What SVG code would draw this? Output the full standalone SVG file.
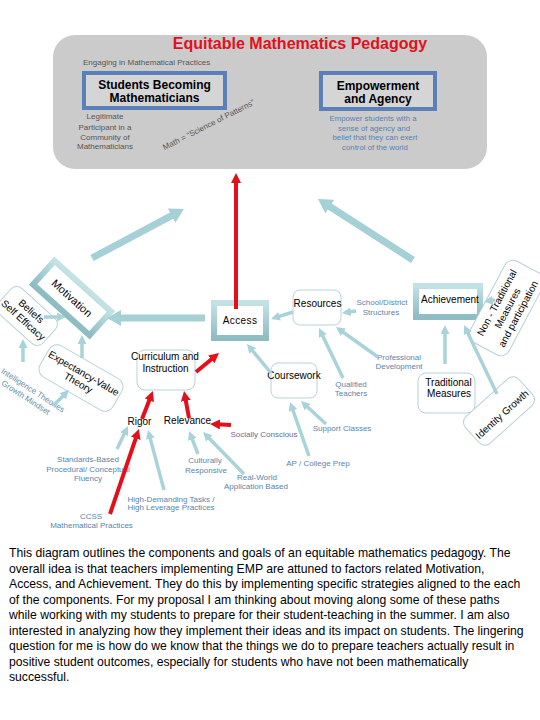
<svg xmlns="http://www.w3.org/2000/svg" width="540" height="720" viewBox="0 0 540 720">
<defs>
<style>
text{font-family:"Liberation Sans",Arial,Helvetica,sans-serif}
.lbl{font-size:8px;fill:#5b84ab;text-anchor:middle}
.gry{font-size:8px;fill:#555;text-anchor:middle}
.nd{font-size:10px;fill:#000;text-anchor:middle}
.rb{fill:#fff;stroke:#b7d1d9;stroke-width:1}
.tb{fill:#fff;stroke:url(#tg);stroke-width:6}
.bb{fill:#d5d5d5;stroke:#5b80b8;stroke-width:4}
.hd{font-size:12px;font-weight:bold;fill:#000;text-anchor:middle}
.ta{fill:none;stroke:#a9d3d8;stroke-width:3.5;marker-end:url(#mt)}
.tA{fill:none;stroke:#a5d0d6;stroke-width:7;marker-end:url(#mT)}
.ra{fill:none;stroke:#e3101b;stroke-width:4;marker-end:url(#mr)}
.para{font-size:12.2px;fill:#000}
</style>
<linearGradient id="tg" x1="0" y1="0" x2="0" y2="1"><stop offset="0" stop-color="#c3e2e5"/><stop offset="1" stop-color="#8dbcc2"/></linearGradient>
<marker id="mt" viewBox="0 0 10 10" refX="3" refY="5" markerWidth="9" markerHeight="9" markerUnits="userSpaceOnUse" orient="auto"><path d="M0,0L10,5L0,10z" fill="#a9d3d8"/></marker>
<marker id="mT" viewBox="0 0 10 10" refX="3" refY="5" markerWidth="14" markerHeight="16" markerUnits="userSpaceOnUse" orient="auto" preserveAspectRatio="none"><path d="M0,0L10,5L0,10z" fill="#a5d0d6"/></marker>
<marker id="mT2" viewBox="0 0 10 10" refX="3" refY="5" markerWidth="14" markerHeight="19" markerUnits="userSpaceOnUse" orient="auto" preserveAspectRatio="none"><path d="M0,0L10,5L0,10z" fill="#a5d0d6"/></marker>
<marker id="mr" viewBox="0 0 10 10" refX="3" refY="5" markerWidth="10" markerHeight="10" markerUnits="userSpaceOnUse" orient="auto"><path d="M0,0L10,5L0,10z" fill="#e3101b"/></marker>
</defs>
<rect width="540" height="720" fill="#fff"/>

<g id="emp-frame">
<rect x="53" y="35" width="434" height="134" rx="22" fill="#cbcbcb"/>
<text x="300" y="49" font-size="16" font-weight="bold" fill="#e3101b" text-anchor="middle">Equitable Mathematics Pedagogy</text>
<text x="83" y="64.5" font-size="8" fill="#555">Engaging in Mathematical Practices</text>
</g>
<g id="students">
<rect class="bb" x="84" y="73" width="141" height="35"/>
<text class="hd" x="154.5" y="89">Students Becoming</text>
<text class="hd" x="154.5" y="102">Mathematicians</text>
</g>
<g id="empowerment">
<rect class="bb" x="321" y="73" width="114" height="36"/>
<text class="hd" x="378" y="90">Empowerment</text>
<text class="hd" x="378" y="103">and Agency</text>
</g>
<g id="legitimate">
<text class="gry" x="105" y="119">Legitimate</text>
<text class="gry" x="105" y="129.5">Participant in a</text>
<text class="gry" x="105" y="139.5">Community of</text>
<text class="gry" x="105" y="149">Mathematicians</text>
</g>
<g id="math-patterns">
<text class="gry" transform="translate(208.5,124.5) rotate(-27)" y="3">Math = “Science of Patterns”</text>
</g>
<g id="empower-desc" font-size="7.8" fill="#5b7fb5" text-anchor="middle">
<text x="373" y="121">Empower students with a</text>
<text x="374" y="130.5">sense of agency and</text>
<text x="375" y="140">belief that they can exert</text>
<text x="375" y="149.5">control of the world</text>
</g>

<g id="motivation" transform="translate(72,298) rotate(42)">
<rect class="tb" x="-38" y="-16" width="76" height="32"/>
<text x="0" y="4" font-size="11" text-anchor="middle">Motivation</text>
</g>
<g id="beliefs" transform="translate(27,316) rotate(42)">
<rect class="rb" x="-30" y="-17" width="60" height="34" rx="8"/>
<text class="nd" y="-3">Beliefs</text>
<text class="nd" y="9">Self Efficacy</text>
</g>
<g id="expectancy" transform="translate(81,378) rotate(30)">
<rect class="rb" x="-42" y="-18" width="84" height="36" rx="9"/>
<text class="nd" y="-2" font-size="9.5">Expectancy-Value</text>
<text class="nd" y="9" font-size="9.5">Theory</text>
</g>
<g id="intelligence" transform="translate(33,390) rotate(33)" font-size="8" fill="#5f8eaa" text-anchor="middle">
<text x="0" y="3">Intelligence Theories</text>
<text x="-2" y="13">Growth Mindset</text>
</g>

<g id="access">
<rect class="tb" x="214" y="303" width="52" height="35"/>
<text class="nd" x="240" y="324" letter-spacing="0.4">Access</text>
</g>
<g id="resources">
<rect class="rb" x="293" y="290" width="48" height="35" rx="7"/>
<text class="nd" x="317.5" y="307">Resources</text>
</g>
<g id="school-district">
<text class="lbl" x="382" y="305">School/District</text>
<text class="lbl" x="381" y="315">Structures</text>
</g>
<g id="curriculum">
<rect class="rb" x="137" y="350" width="58" height="40" rx="8"/>
<text class="nd" x="165" y="360">Curriculum and</text>
<text class="nd" x="165.5" y="371.5">Instruction</text>
</g>
<g id="coursework">
<rect class="rb" x="271" y="363" width="46" height="35" rx="7"/>
<text class="nd" x="294" y="379">Coursework</text>
</g>
<g id="professional">
<text class="lbl" x="399" y="360">Professional</text>
<text class="lbl" x="399" y="369">Development</text>
</g>
<g id="qualified">
<text class="lbl" x="351" y="387">Qualified</text>
<text class="lbl" x="351" y="396">Teachers</text>
</g>
<g id="support"><text class="lbl" x="342" y="431">Support Classes</text></g>
<g id="ap"><text class="lbl" x="318" y="466">AP / College Prep</text></g>

<g id="achievement">
<rect class="tb" x="416" y="286" width="64" height="31"/>
<text class="nd" x="450" y="303" font-size="10.5">Achievement</text>
</g>
<g id="nontraditional" transform="translate(507,308) rotate(-62)">
<rect class="rb" x="-46" y="-22" width="92" height="44" rx="9"/>
<text class="nd" y="-8">Non - Traditional</text>
<text class="nd" y="4">Measures</text>
<text class="nd" y="16" font-size="9.5">and participation</text>
</g>
<g id="traditional">
<rect class="rb" x="418" y="373" width="57" height="40" rx="8"/>
<text class="nd" x="448.5" y="386">Traditional</text>
<text class="nd" x="449" y="397">Measures</text>
</g>
<g id="identity" transform="translate(499,411) rotate(-42)">
<rect class="rb" x="-36" y="-18" width="72" height="36" rx="8"/>
<text class="nd" y="8">Identity Growth</text>
</g>

<g id="rigor"><text class="nd" x="139.5" y="425">Rigor</text></g>
<g id="relevance"><text class="nd" x="187.5" y="424">Relevance</text></g>
<g id="socially"><text x="264" y="437" font-size="8" fill="#6a6a9c" text-anchor="middle">Socially Conscious</text></g>
<g id="standards">
<text class="lbl" x="88" y="462" fill="#6a91ad">Standards-Based</text>
<text class="lbl" x="88" y="472">Procedural/ Conceptual</text>
<text class="lbl" x="88" y="481">Fluency</text>
</g>
<g id="culturally">
<text class="lbl" x="205" y="463">Culturally</text>
<text class="lbl" x="206" y="473">Responsive</text>
</g>
<g id="realworld">
<text class="lbl" x="257" y="480">Real-World</text>
<text class="lbl" x="256" y="489">Application Based</text>
</g>
<g id="highdemand">
<text class="lbl" x="171" y="501.5">High-Demanding Tasks /</text>
<text class="lbl" x="171" y="510">High Leverage Practices</text>
</g>
<g id="ccss">
<text class="lbl" x="91" y="519">CCSS</text>
<text class="lbl" x="91.5" y="528">Mathematical Practices</text>
</g>

<g id="connectors">
<line class="ta" x1="44" y1="317" x2="59.7" y2="317"/>
<line class="ta" x1="82" y1="358" x2="82" y2="341.3"/>
<line class="ta" x1="23" y1="362" x2="23" y2="345.3"/>
<line class="ta" x1="53" y1="406" x2="64.5" y2="394.5"/>
<line class="ta" x1="293" y1="312" x2="277" y2="317.1"/>
<line class="ta" x1="356" y1="311" x2="348.2" y2="312.1"/>
<line class="ta" x1="271" y1="373" x2="251" y2="348.9"/>
<line class="ta" x1="343" y1="378" x2="321.7" y2="333.7"/>
<line class="ta" x1="378" y1="357" x2="341.1" y2="330.7"/>
<line class="ta" x1="309" y1="456" x2="292.1" y2="407.9"/>
<line class="ta" x1="326" y1="424" x2="305.6" y2="405.3"/>
<line class="ta" x1="117" y1="449" x2="125.3" y2="431.7"/>
<line class="ta" x1="164" y1="490" x2="149.6" y2="436.1"/>
<line class="ta" x1="198" y1="454" x2="191.3" y2="436.9"/>
<line class="ta" x1="244" y1="474" x2="207.4" y2="436.5"/>
<line class="ta" x1="445" y1="364" x2="445" y2="331.3"/>
<line class="ta" x1="497" y1="394" x2="466.7" y2="330.7"/>
<line class="ta" x1="495" y1="300" x2="490.2" y2="300.8"/>
<line class="tA" x1="92" y1="258" x2="175.3" y2="213.6"/>
<line class="tA" x1="413" y1="260" x2="326.2" y2="204.3"/>
<line class="tA" x1="205" y1="318" x2="116.8" y2="318" stroke-width="9" marker-end="url(#mT2)"/>
<line class="ra" x1="236" y1="309" x2="236" y2="180"/>
<line class="ra" x1="196" y1="372" x2="213.6" y2="357.5"/>
<line class="ra" x1="142" y1="419" x2="150.4" y2="397.5"/>
<line class="ra" x1="189" y1="418" x2="185.3" y2="397.9"/>
<line class="ra" x1="231" y1="425" x2="217" y2="424.3"/>
<line class="ra" x1="110" y1="514" x2="136.7" y2="435.6" stroke-width="5"/>
</g>

<g id="paragraph">
<text class="para" x="9" y="557">This diagram outlines the components and goals of an equitable mathematics pedagogy. The</text>
<text class="para" x="9" y="572.5">overall idea is that teachers implementing EMP are attuned to factors related Motivation,</text>
<text class="para" x="9" y="588">Access, and Achievement. They do this by implementing specific strategies aligned to the each</text>
<text class="para" x="9" y="603.5">of the components. For my proposal I am thinking about moving along some of these paths</text>
<text class="para" x="9" y="619">while working with my students to prepare for their student-teaching in the summer. I am also</text>
<text class="para" x="9" y="634.5">interested in analyzing how they implement their ideas and its impact on students. The lingering</text>
<text class="para" x="9" y="650">question for me is how do we know that the things we do to prepare teachers actually result in</text>
<text class="para" x="9" y="665.5">positive student outcomes, especially for students who have not been mathematically</text>
<text class="para" x="9" y="681">successful.</text>
</g>
</svg>
